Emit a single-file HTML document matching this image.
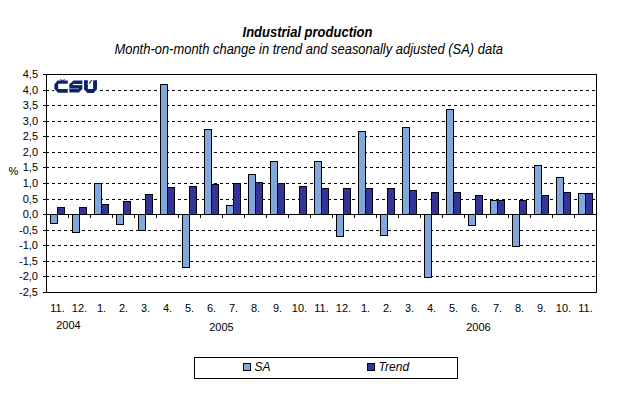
<!DOCTYPE html>
<html><head><meta charset="utf-8"><style>
html,body{margin:0;padding:0;background:#fff;}
body{width:618px;height:397px;overflow:hidden;position:relative;}
svg{position:absolute;left:0;top:0;}
.t{font-family:"Liberation Sans",sans-serif;font-size:11px;fill:#000;}
</style></head><body>
<svg width="618" height="397" viewBox="0 0 618 397">
<g shape-rendering="crispEdges">
<line x1="46" y1="90.5" x2="596" y2="90.5" stroke="#000" stroke-width="1" stroke-dasharray="3 3"/>
<line x1="46" y1="105.5" x2="596" y2="105.5" stroke="#000" stroke-width="1" stroke-dasharray="3 3"/>
<line x1="46" y1="121.5" x2="596" y2="121.5" stroke="#000" stroke-width="1" stroke-dasharray="3 3"/>
<line x1="46" y1="136.5" x2="596" y2="136.5" stroke="#000" stroke-width="1" stroke-dasharray="3 3"/>
<line x1="46" y1="152.5" x2="596" y2="152.5" stroke="#000" stroke-width="1" stroke-dasharray="3 3"/>
<line x1="46" y1="167.5" x2="596" y2="167.5" stroke="#000" stroke-width="1" stroke-dasharray="3 3"/>
<line x1="46" y1="183.5" x2="596" y2="183.5" stroke="#000" stroke-width="1" stroke-dasharray="3 3"/>
<line x1="46" y1="199.5" x2="596" y2="199.5" stroke="#000" stroke-width="1" stroke-dasharray="3 3"/>
<line x1="46" y1="230.5" x2="596" y2="230.5" stroke="#000" stroke-width="1" stroke-dasharray="3 3"/>
<line x1="46" y1="245.5" x2="596" y2="245.5" stroke="#000" stroke-width="1" stroke-dasharray="3 3"/>
<line x1="46" y1="261.5" x2="596" y2="261.5" stroke="#000" stroke-width="1" stroke-dasharray="3 3"/>
<line x1="46" y1="276.5" x2="596" y2="276.5" stroke="#000" stroke-width="1" stroke-dasharray="3 3"/>
<rect x="50" y="214" width="8" height="10" fill="#000"/><rect x="51" y="215" width="6" height="8" fill="#80A8DC"/>
<rect x="57" y="207" width="8" height="8" fill="#000"/><rect x="58" y="208" width="6" height="6" fill="#333399"/>
<rect x="72" y="214" width="8" height="19" fill="#000"/><rect x="73" y="215" width="6" height="17" fill="#80A8DC"/>
<rect x="79" y="207" width="8" height="8" fill="#000"/><rect x="80" y="208" width="6" height="6" fill="#333399"/>
<rect x="94" y="183" width="8" height="32" fill="#000"/><rect x="95" y="184" width="6" height="30" fill="#80A8DC"/>
<rect x="101" y="204" width="8" height="11" fill="#000"/><rect x="102" y="205" width="6" height="9" fill="#333399"/>
<rect x="116" y="214" width="8" height="11" fill="#000"/><rect x="117" y="215" width="6" height="9" fill="#80A8DC"/>
<rect x="123" y="201" width="8" height="14" fill="#000"/><rect x="124" y="202" width="6" height="12" fill="#333399"/>
<rect x="138" y="214" width="8" height="17" fill="#000"/><rect x="139" y="215" width="6" height="15" fill="#80A8DC"/>
<rect x="145" y="194" width="8" height="21" fill="#000"/><rect x="146" y="195" width="6" height="19" fill="#333399"/>
<rect x="160" y="84" width="8" height="131" fill="#000"/><rect x="161" y="85" width="6" height="129" fill="#80A8DC"/>
<rect x="167" y="187" width="8" height="28" fill="#000"/><rect x="168" y="188" width="6" height="26" fill="#333399"/>
<rect x="182" y="214" width="8" height="54" fill="#000"/><rect x="183" y="215" width="6" height="52" fill="#80A8DC"/>
<rect x="189" y="186" width="8" height="29" fill="#000"/><rect x="190" y="187" width="6" height="27" fill="#333399"/>
<rect x="204" y="129" width="8" height="86" fill="#000"/><rect x="205" y="130" width="6" height="84" fill="#80A8DC"/>
<rect x="211" y="184" width="8" height="31" fill="#000"/><rect x="212" y="185" width="6" height="29" fill="#333399"/>
<rect x="226" y="205" width="8" height="10" fill="#000"/><rect x="227" y="206" width="6" height="8" fill="#80A8DC"/>
<rect x="233" y="183" width="8" height="32" fill="#000"/><rect x="234" y="184" width="6" height="30" fill="#333399"/>
<rect x="248" y="174" width="8" height="41" fill="#000"/><rect x="249" y="175" width="6" height="39" fill="#80A8DC"/>
<rect x="255" y="182" width="8" height="33" fill="#000"/><rect x="256" y="183" width="6" height="31" fill="#333399"/>
<rect x="270" y="161" width="8" height="54" fill="#000"/><rect x="271" y="162" width="6" height="52" fill="#80A8DC"/>
<rect x="277" y="183" width="8" height="32" fill="#000"/><rect x="278" y="184" width="6" height="30" fill="#333399"/>
<rect x="299" y="186" width="8" height="29" fill="#000"/><rect x="300" y="187" width="6" height="27" fill="#333399"/>
<rect x="314" y="161" width="8" height="54" fill="#000"/><rect x="315" y="162" width="6" height="52" fill="#80A8DC"/>
<rect x="321" y="188" width="8" height="27" fill="#000"/><rect x="322" y="189" width="6" height="25" fill="#333399"/>
<rect x="336" y="214" width="8" height="23" fill="#000"/><rect x="337" y="215" width="6" height="21" fill="#80A8DC"/>
<rect x="343" y="188" width="8" height="27" fill="#000"/><rect x="344" y="189" width="6" height="25" fill="#333399"/>
<rect x="358" y="131" width="8" height="84" fill="#000"/><rect x="359" y="132" width="6" height="82" fill="#80A8DC"/>
<rect x="365" y="188" width="8" height="27" fill="#000"/><rect x="366" y="189" width="6" height="25" fill="#333399"/>
<rect x="380" y="214" width="8" height="22" fill="#000"/><rect x="381" y="215" width="6" height="20" fill="#80A8DC"/>
<rect x="387" y="188" width="8" height="27" fill="#000"/><rect x="388" y="189" width="6" height="25" fill="#333399"/>
<rect x="402" y="127" width="8" height="88" fill="#000"/><rect x="403" y="128" width="6" height="86" fill="#80A8DC"/>
<rect x="409" y="190" width="8" height="25" fill="#000"/><rect x="410" y="191" width="6" height="23" fill="#333399"/>
<rect x="424" y="214" width="8" height="64" fill="#000"/><rect x="425" y="215" width="6" height="62" fill="#80A8DC"/>
<rect x="431" y="192" width="8" height="23" fill="#000"/><rect x="432" y="193" width="6" height="21" fill="#333399"/>
<rect x="446" y="109" width="8" height="106" fill="#000"/><rect x="447" y="110" width="6" height="104" fill="#80A8DC"/>
<rect x="453" y="192" width="8" height="23" fill="#000"/><rect x="454" y="193" width="6" height="21" fill="#333399"/>
<rect x="468" y="214" width="8" height="12" fill="#000"/><rect x="469" y="215" width="6" height="10" fill="#80A8DC"/>
<rect x="475" y="195" width="8" height="20" fill="#000"/><rect x="476" y="196" width="6" height="18" fill="#333399"/>
<rect x="490" y="200" width="8" height="15" fill="#000"/><rect x="491" y="201" width="6" height="13" fill="#80A8DC"/>
<rect x="497" y="200" width="8" height="15" fill="#000"/><rect x="498" y="201" width="6" height="13" fill="#333399"/>
<rect x="512" y="214" width="8" height="33" fill="#000"/><rect x="513" y="215" width="6" height="31" fill="#80A8DC"/>
<rect x="519" y="200" width="8" height="15" fill="#000"/><rect x="520" y="201" width="6" height="13" fill="#333399"/>
<rect x="534" y="165" width="8" height="50" fill="#000"/><rect x="535" y="166" width="6" height="48" fill="#80A8DC"/>
<rect x="541" y="195" width="8" height="20" fill="#000"/><rect x="542" y="196" width="6" height="18" fill="#333399"/>
<rect x="556" y="177" width="8" height="38" fill="#000"/><rect x="557" y="178" width="6" height="36" fill="#80A8DC"/>
<rect x="563" y="192" width="8" height="23" fill="#000"/><rect x="564" y="193" width="6" height="21" fill="#333399"/>
<rect x="578" y="193" width="8" height="22" fill="#000"/><rect x="579" y="194" width="6" height="20" fill="#80A8DC"/>
<rect x="585" y="193" width="8" height="22" fill="#000"/><rect x="586" y="194" width="6" height="20" fill="#333399"/>
<rect x="46" y="74" width="551" height="1" fill="#000"/>
<rect x="46" y="292" width="551" height="1" fill="#000"/>
<rect x="46" y="74" width="1" height="219" fill="#000"/>
<rect x="596" y="74" width="1" height="219" fill="#000"/>
<rect x="46" y="214" width="551" height="1" fill="#000"/>
<rect x="43" y="74" width="3" height="1" fill="#000"/>
<rect x="43" y="90" width="3" height="1" fill="#000"/>
<rect x="43" y="105" width="3" height="1" fill="#000"/>
<rect x="43" y="121" width="3" height="1" fill="#000"/>
<rect x="43" y="136" width="3" height="1" fill="#000"/>
<rect x="43" y="152" width="3" height="1" fill="#000"/>
<rect x="43" y="167" width="3" height="1" fill="#000"/>
<rect x="43" y="183" width="3" height="1" fill="#000"/>
<rect x="43" y="199" width="3" height="1" fill="#000"/>
<rect x="43" y="214" width="3" height="1" fill="#000"/>
<rect x="43" y="230" width="3" height="1" fill="#000"/>
<rect x="43" y="245" width="3" height="1" fill="#000"/>
<rect x="43" y="261" width="3" height="1" fill="#000"/>
<rect x="43" y="276" width="3" height="1" fill="#000"/>
<rect x="43" y="292" width="3" height="1" fill="#000"/>
<rect x="68" y="215" width="1" height="3" fill="#000"/>
<rect x="90" y="215" width="1" height="3" fill="#000"/>
<rect x="112" y="215" width="1" height="3" fill="#000"/>
<rect x="134" y="215" width="1" height="3" fill="#000"/>
<rect x="156" y="215" width="1" height="3" fill="#000"/>
<rect x="178" y="215" width="1" height="3" fill="#000"/>
<rect x="200" y="215" width="1" height="3" fill="#000"/>
<rect x="222" y="215" width="1" height="3" fill="#000"/>
<rect x="244" y="215" width="1" height="3" fill="#000"/>
<rect x="266" y="215" width="1" height="3" fill="#000"/>
<rect x="288" y="215" width="1" height="3" fill="#000"/>
<rect x="310" y="215" width="1" height="3" fill="#000"/>
<rect x="332" y="215" width="1" height="3" fill="#000"/>
<rect x="354" y="215" width="1" height="3" fill="#000"/>
<rect x="376" y="215" width="1" height="3" fill="#000"/>
<rect x="398" y="215" width="1" height="3" fill="#000"/>
<rect x="420" y="215" width="1" height="3" fill="#000"/>
<rect x="442" y="215" width="1" height="3" fill="#000"/>
<rect x="464" y="215" width="1" height="3" fill="#000"/>
<rect x="486" y="215" width="1" height="3" fill="#000"/>
<rect x="508" y="215" width="1" height="3" fill="#000"/>
<rect x="530" y="215" width="1" height="3" fill="#000"/>
<rect x="552" y="215" width="1" height="3" fill="#000"/>
<rect x="574" y="215" width="1" height="3" fill="#000"/>
</g>
<rect x="54" y="79" width="43" height="14" fill="#fff"/>
<g fill="#0A2466">
<path d="M57.6,80.4 H67.8 V83.8 H58.2 V89 H67.8 V92.7 H58.1 L54.4,89 V84.2 Z"/>
<path d="M59.6,79.2 H61.3 L62.5,80.6 L63.7,79.2 H65.4 L63.5,81.4 H61.5 Z" fill-opacity="0.7"/>
<path d="M73.4,80.4 H82.4 V89 L78.8,92.6 H69.3 V84.5 Z"/>
<path d="M84,80.2 H87.9 V89 H93.1 V80.2 H97 V89.2 L93.5,92.9 H87.6 L84,89.6 Z"/>
<path d="M88.4,83.8 L89.9,83.8 L92.4,80.2 L90.9,80.2 Z"/>
</g>
<rect x="72.9" y="84" width="9.5" height="1.1" fill="#fff"/>
<rect x="69.3" y="88.3" width="9.7" height="0.8" fill="#fff" fill-opacity="0.6"/>
<path d="M87.2,84.2 L88.2,84.2 L90.8,80.1 L89.8,80.1 Z" fill="#fff" fill-opacity="0.85"/>
<g class="t">
<text x="38" y="78" text-anchor="end">4,5</text>
<text x="38" y="94" text-anchor="end">4,0</text>
<text x="38" y="109" text-anchor="end">3,5</text>
<text x="38" y="125" text-anchor="end">3,0</text>
<text x="38" y="140" text-anchor="end">2,5</text>
<text x="38" y="156" text-anchor="end">2,0</text>
<text x="38" y="171" text-anchor="end">1,5</text>
<text x="38" y="187" text-anchor="end">1,0</text>
<text x="38" y="203" text-anchor="end">0,5</text>
<text x="38" y="218" text-anchor="end">0,0</text>
<text x="38" y="234" text-anchor="end">-0,5</text>
<text x="38" y="249" text-anchor="end">-1,0</text>
<text x="38" y="265" text-anchor="end">-1,5</text>
<text x="38" y="280" text-anchor="end">-2,0</text>
<text x="38" y="296" text-anchor="end">-2,5</text>
<text x="8.5" y="175">%</text>
<text x="57.5" y="312" text-anchor="middle">11.</text>
<text x="79.5" y="312" text-anchor="middle">12.</text>
<text x="101.5" y="312" text-anchor="middle">1.</text>
<text x="123.5" y="312" text-anchor="middle">2.</text>
<text x="145.5" y="312" text-anchor="middle">3.</text>
<text x="167.5" y="312" text-anchor="middle">4.</text>
<text x="189.5" y="312" text-anchor="middle">5.</text>
<text x="211.5" y="312" text-anchor="middle">6.</text>
<text x="233.5" y="312" text-anchor="middle">7.</text>
<text x="255.5" y="312" text-anchor="middle">8.</text>
<text x="277.5" y="312" text-anchor="middle">9.</text>
<text x="299.5" y="312" text-anchor="middle">10.</text>
<text x="321.5" y="312" text-anchor="middle">11.</text>
<text x="343.5" y="312" text-anchor="middle">12.</text>
<text x="365.5" y="312" text-anchor="middle">1.</text>
<text x="387.5" y="312" text-anchor="middle">2.</text>
<text x="409.5" y="312" text-anchor="middle">3.</text>
<text x="431.5" y="312" text-anchor="middle">4.</text>
<text x="453.5" y="312" text-anchor="middle">5.</text>
<text x="475.5" y="312" text-anchor="middle">6.</text>
<text x="497.5" y="312" text-anchor="middle">7.</text>
<text x="519.5" y="312" text-anchor="middle">8.</text>
<text x="541.5" y="312" text-anchor="middle">9.</text>
<text x="563.5" y="312" text-anchor="middle">10.</text>
<text x="585.5" y="312" text-anchor="middle">11.</text>
<text x="68.5" y="329" text-anchor="middle">2004</text>
<text x="221.5" y="331" text-anchor="middle">2005</text>
<text x="478.5" y="331" text-anchor="middle">2006</text>
</g>
<text transform="translate(307.5,37) scale(1,1.08)" x="0" y="0" text-anchor="middle" style="font-family:'Liberation Sans',sans-serif;font-size:13px;font-weight:bold;font-style:italic">Industrial production</text>
<text transform="translate(308.7,54) scale(0.996,1.08)" x="0" y="0" text-anchor="middle" style="font-family:'Liberation Sans',sans-serif;font-size:13px;font-style:italic">Month-on-month change in trend and seasonally adjusted (SA) data</text>
<g shape-rendering="crispEdges">
<rect x="194" y="357" width="264" height="22" fill="#000"/>
<rect x="195" y="358" width="262" height="20" fill="#fff"/>
<rect x="243" y="363" width="8" height="8" fill="#000"/>
<rect x="244" y="364" width="6" height="6" fill="#80A8DC"/>
<rect x="367" y="363" width="8" height="8" fill="#000"/>
<rect x="368" y="364" width="6" height="6" fill="#333399"/>
</g>
<text x="254.6" y="371" style="font-family:'Liberation Sans',sans-serif;font-size:12px;font-style:italic">SA</text>
<text x="378.6" y="371" style="font-family:'Liberation Sans',sans-serif;font-size:12px;font-style:italic">Trend</text>
</svg>
</body></html>
